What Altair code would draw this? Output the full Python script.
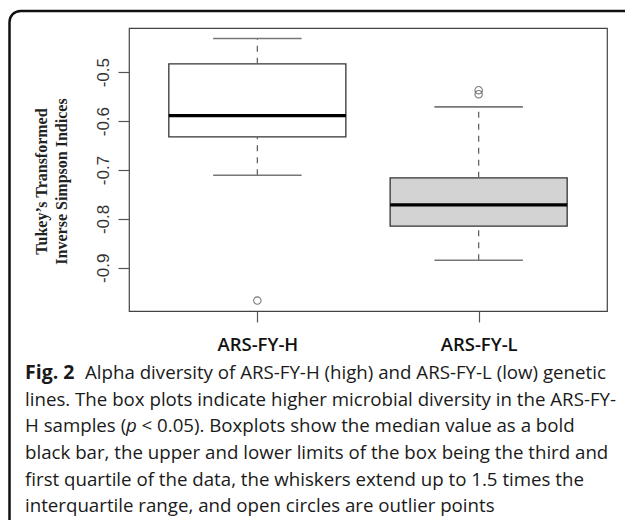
import altair as alt
import pandas as pd

# ---- data ----
groups = ["ARS-FY-H", "ARS-FY-L"]
positions = [1, 2]
lower_whisker = [-0.7106, -0.8845]
q1 = [-0.6321, -0.8149]
median = [-0.5886, -0.7712]
q3 = [-0.4828, -0.7160]
upper_whisker = [-0.4311, -0.5708]
box_fill = ["#ffffff", "#d3d3d3"]

outlier_group = ["ARS-FY-H", "ARS-FY-L", "ARS-FY-L"]
outlier_value = [-0.9669, -0.5368, -0.5450]

y_ticks = [-0.9, -0.8, -0.7, -0.6, -0.5]
y_title = ["Tukey\u2019s Transformed", "Inverse Simpson Indices"]

caption_lines = [
    "lines. The box plots indicate higher microbial diversity in the ARS-FY-",
    "H samples (",
    "black bar, the upper and lower limits of the box being the third and",
    "first quartile of the data, the whiskers extend up to 1.5 times the",
    "interquartile range, and open circles are outlier points",
]
caption_bold = "Fig. 2"
caption_first = "Alpha diversity of ARS-FY-H (high) and ARS-FY-L (low) genetic"
caption_italic = "p"
caption_after_italic = "< 0.05). Boxplots show the median value as a bold"

# ---- layout ----
W, H = 478, 283
LEFT, TOP = 129, 28
half_box, half_cap = 0.4, 0.2

df = pd.DataFrame({
    "group": groups, "pos": positions, "lw": lower_whisker, "q1": q1,
    "med": median, "q3": q3, "uw": upper_whisker, "fill": box_fill,
})
pos_of = dict(zip(groups, positions))
out = pd.DataFrame({"group": outlier_group, "value": outlier_value})
out["pos"] = out["group"].map(pos_of)

xscale = alt.Scale(domain=[0.42, 2.58], nice=False, zero=False)
yscale = alt.Scale(domain=[-0.9883, -0.4096], nice=False, zero=False)

label_expr = " : ".join(
    [f"datum.value == {p} ? '{g}'" for p, g in zip(positions[:-1], groups[:-1])]
    + [f"'{groups[-1]}'"]
)
xaxis = alt.Axis(values=positions, labelExpr=label_expr, title=None, grid=False,
                 domain=False, tickSize=11, tickColor="#555", tickWidth=1.2,
                 labelFont="Open Sans", labelFontSize=18.5, labelFontWeight=600,
                 labelColor="#111", labelPadding=13)
yaxis = alt.Axis(values=y_ticks,
                 labelExpr="replace(format(datum.value, '.1f'), '\u2212', '-')",
                 title=y_title, grid=False, domain=False, tickSize=11,
                 tickColor="#555", tickWidth=1.2, labelFont="Liberation Sans",
                 labelFontSize=17, labelColor="#333", labelAngle=270,
                 labelAlign="center", labelBaseline="alphabetic", labelPadding=10,
                 titleFont="Liberation Serif", titleFontWeight="bold",
                 titleFontSize=16, titleColor="#222", titleAngle=270,
                 titleAlign="center", titleBaseline="alphabetic",
                 titleX=46 - LEFT, titleY=181 - TOP, titleLineHeight=20)


def X(field):
    return alt.X(field, scale=xscale, axis=xaxis)


def Y(field):
    return alt.Y(field, scale=yscale, axis=yaxis)


base = alt.Chart(df).transform_calculate(
    lo=f"datum.pos - {half_box}", hi=f"datum.pos + {half_box}",
    clo=f"datum.pos - {half_cap}", chi=f"datum.pos + {half_cap}",
)

boxes = base.mark_rect(stroke="#333", strokeWidth=1.3).encode(
    x=X("lo:Q"), x2="hi:Q", y=Y("q1:Q"), y2="q3:Q",
    fill=alt.Fill("fill:N", scale=None),
)
upper_stem = base.mark_rule(color="#666", strokeWidth=1.3, strokeDash=[6, 6]).encode(
    x=X("pos:Q"), y=Y("q3:Q"), y2="uw:Q",
)
lower_stem = base.mark_rule(color="#666", strokeWidth=1.3, strokeDash=[6, 6]).encode(
    x=X("pos:Q"), y=Y("lw:Q"), y2="q1:Q",
)
upper_cap = base.mark_rule(color="#777", strokeWidth=1.6).encode(
    x=X("clo:Q"), x2="chi:Q", y=Y("uw:Q"),
)
lower_cap = base.mark_rule(color="#777", strokeWidth=1.6).encode(
    x=X("clo:Q"), x2="chi:Q", y=Y("lw:Q"),
)
medians = base.mark_rule(color="#000", strokeWidth=3.2).encode(
    x=X("lo:Q"), x2="hi:Q", y=Y("med:Q"),
)
outliers = alt.Chart(out).mark_point(shape="circle", filled=False, size=55,
                                     color="#444", strokeWidth=1.1).encode(
    x=X("pos:Q"), y=Y("value:Q"),
)

one = pd.DataFrame({"a": [0]})
frame = alt.Chart(one).mark_rect(fill="transparent", stroke="#111",
                                 strokeWidth=2.5, cornerRadius=11).encode(
    x=alt.value(9.5 - LEFT), x2=alt.value(900),
    y=alt.value(11 - TOP), y2=alt.value(900),
)

CAP_FONT = "Open Sans"
CAP_SIZE = 18.7
CAP_X = 25 - LEFT
baselines = [379, 405.7, 432.3, 459, 485.7, 511.7]


def cap_text(txt, px, py, size=CAP_SIZE, **kw):
    return alt.Chart(one).mark_text(
        font=CAP_FONT, fontSize=size, align="left", baseline="alphabetic",
        color="#1a1a1a", **kw
    ).encode(text=alt.value(txt), x=alt.value(px), y=alt.value(py - TOP))


caps = [
    cap_text(caption_bold, CAP_X, baselines[0], size=19.5, fontWeight="bold"),
    cap_text(caption_first, 85 - LEFT, baselines[0]),
    cap_text(caption_lines[0], CAP_X, baselines[1]),
    cap_text(caption_lines[1], CAP_X, baselines[2]),
    cap_text(caption_italic, 126 - LEFT, baselines[2], fontStyle="italic"),
    cap_text(caption_after_italic, 141.5 - LEFT, baselines[2]),
    cap_text(caption_lines[2], CAP_X, baselines[3]),
    cap_text(caption_lines[3], CAP_X, baselines[4]),
    cap_text(caption_lines[4], CAP_X, baselines[5]),
]

chart = alt.layer(
    boxes, upper_stem, lower_stem, upper_cap, lower_cap, medians, outliers, frame, *caps
).properties(
    width=W, height=H,
    autosize=alt.AutoSizeParams(type="none"),
    padding={"left": LEFT, "top": TOP, "right": 625 - LEFT - W, "bottom": 520 - TOP - H},
    background="white",
).configure_view(stroke="#444", strokeWidth=1.2)

chart.save("out.html", embed_options={"renderer": "svg", "actions": False})
